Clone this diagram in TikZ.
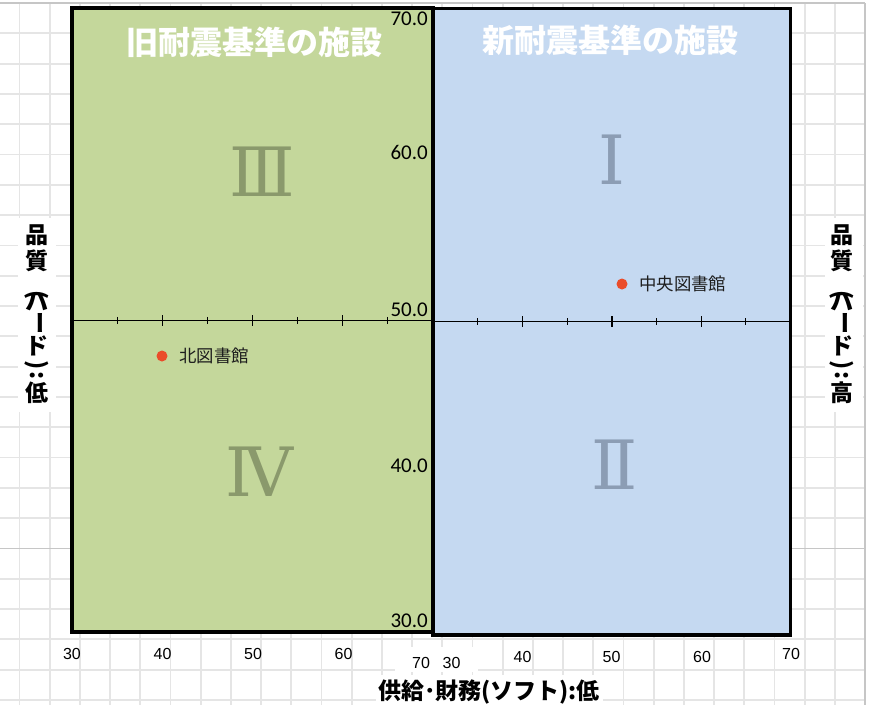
\documentclass[tikz,border=0pt]{standalone}
\usepackage{fontspec}
\usepackage{graphicx}
\setmainfont{Liberation Sans}
\newfontfamily\jpfont{Noto Sans CJK JP}
\newfontfamily\numfont{Carlito}
\newfontfamily\romfont{DejaVu Serif}
\definecolor{oldfill}{RGB}{196,215,155}
\definecolor{newfill}{RGB}{197,217,241}
\definecolor{gridc}{RGB}{229,229,229}
\definecolor{gridd}{RGB}{198,198,198}
\definecolor{romg}{RGB}{138,153,108}
\definecolor{romb}{RGB}{140,157,180}
\definecolor{dotc}{RGB}{234,76,42}
\definecolor{txtc}{RGB}{30,30,30}
\newcommand{\vcell}[2]{\hbox to 30pt{\hss\raisebox{0pt}[#1][0pt]{#2}\hss}}
\newcommand{\vrot}[1]{\rotatebox[origin=c]{-90}{#1}}
\tikzset{
  gridline/.style={draw=gridc, line width=1.8pt},
  gridheavy/.style={draw=gridd, line width=1.8pt},
  quadbox/.style={draw=black, line width=3.5pt},
  axisline/.style={draw=black, line width=1.4pt},
  majortick/.style={draw=black, line width=1.4pt},
  minortick/.style={draw=black, line width=1.1pt},
  titletext/.style={inner sep=0pt, text=white, font=\jpfont\bfseries\fontsize{32}{32}\selectfont},
  romang/.style={inner sep=0pt, text=romg, font=\romfont\fontsize{68}{68}\selectfont},
  romanb/.style={inner sep=0pt, text=romb, font=\romfont\fontsize{68}{68}\selectfont},
  ylab/.style={inner sep=0pt, anchor=base east, text=black, font=\numfont\fontsize{21}{21}\selectfont},
  xlab/.style={inner sep=0pt, anchor=base, text=black, font=\fontsize{16}{16}\selectfont},
  dotmark/.style={circle, fill=dotc, minimum size=11pt, inner sep=0pt},
  ptlabel/.style={inner sep=0pt, anchor=west, text=txtc, font=\jpfont\fontsize{17.4}{17.4}\selectfont},
  vlabel/.style={inner sep=0pt, anchor=north, text=black, font=\jpfont\bfseries\fontsize{23}{23}\selectfont},
  hlabel/.style={inner sep=0pt, text=black, font=\jpfont\bfseries\fontsize{23}{23}\selectfont},
}
\begin{document}
\begin{tikzpicture}[x=1pt,y=-1pt]
\useasboundingbox (0,0) rectangle (875,705);
\fill[white] (0,0) rectangle (875,705);
% spreadsheet grid
\foreach \i in {0,...,27} \draw[gridline] ({19.5+30.2*\i},3) -- ({19.5+30.2*\i},705);
\foreach \j in {1,...,23} \draw[gridline] (0,{3+30.3*\j}) -- (865,{3+30.3*\j});
\draw[gridheavy] (0,3) -- (865,3);
\draw[gridheavy] (0,548.4) -- (865,548.4);
\draw[gridheavy] (865,3) -- (865,705);
% white text boxes
\fill[white] (18,218) rectangle (56,412);
\fill[white] (825,218) rectangle (863,412);
\fill[white] (395,647) rectangle (478,672);
\fill[white] (376,675) rectangle (603,705);
% quadrants
\draw[quadbox, fill=oldfill] (72,8) rectangle (433,632);
\draw[quadbox, fill=newfill] (433,8.5) rectangle (790.5,635);
% horizontal axis
\draw[axisline] (72,320.3) -- (433,320.3);
\draw[axisline] (433,321.5) -- (790.5,321.5);
\foreach \v in {35,45,55,65} {
  \draw[minortick] ({72+(\v-30)*9.025},316.8) -- ({72+(\v-30)*9.025},323.8);
  \draw[minortick] ({433+(\v-30)*8.94},318) -- ({433+(\v-30)*8.94},325);
}
\foreach \v in {40,50,60} {
  \draw[majortick] ({72+(\v-30)*9.025},315) -- ({72+(\v-30)*9.025},325.8);
  \draw[majortick] ({433+(\v-30)*8.94},316.2) -- ({433+(\v-30)*8.94},327);
}
% titles
\node[titletext] (tOld) at (254.5,42) {旧耐震基準の施設};
\node[titletext] (tNew) at (610.5,40) {新耐震基準の施設};
% roman numerals
\node[romang] (q3) at (262,172) {Ⅲ};
\node[romanb] (q1) at (612,160) {Ⅰ};
\node[romang] (q4) at (259,472) {Ⅳ};
\node[romanb] (q2) at (615,465) {Ⅱ};
% y labels
\node[ylab] (y70) at (428,25) {70.0};
\node[ylab] (y60) at (428,159.5) {60.0};
\node[ylab] (y50) at (428,316) {50.0};
\node[ylab] (y40) at (428,472.5) {40.0};
\node[ylab] (y30) at (428,627.5) {30.0};
% x labels
\node[xlab] (xa30) at (72,659) {30};
\node[xlab] (xa40) at (162.5,659) {40};
\node[xlab] (xa50) at (253,659) {50};
\node[xlab] (xa60) at (343.5,659) {60};
\node[xlab] (xa70) at (421,668) {70};
\node[xlab] (xb30) at (451.5,668) {30};
\node[xlab] (xb40) at (522.5,662) {40};
\node[xlab] (xb50) at (611.5,662) {50};
\node[xlab] (xb60) at (702,662) {60};
\node[xlab] (xb70) at (791,659) {70};
% data points
\node[dotmark] (pKita) at (162,356) {};
\node[ptlabel] (lKita) at (179,356) {北図書館};
\node[dotmark] (pChuo) at (622,284) {};
\node[ptlabel] (lChuo) at (639,284) {中央図書館};
% axis titles
\node[vlabel] (qLow) at (37,223.4) {\vbox{\offinterlineskip
  \vcell{20pt}{品}\vcell{26pt}{質}\vcell{33pt}{\vrot{(}}\vcell{8pt}{ハ}%
  \vcell{18pt}{\vrot{ー}}\vcell{26pt}{ド}\vcell{18pt}{\vrot{)}}\vcell{9pt}{\vrot{:}}\vcell{20pt}{低}}};
\node[vlabel] (qHigh) at (842,223.4) {\vbox{\offinterlineskip
  \vcell{20pt}{品}\vcell{26pt}{質}\vcell{33pt}{\vrot{(}}\vcell{8pt}{ハ}%
  \vcell{18pt}{\vrot{ー}}\vcell{26pt}{ド}\vcell{18pt}{\vrot{)}}\vcell{9pt}{\vrot{:}}\vcell{20pt}{高}}};
\node[hlabel] (sLow) at (489,692) {供給･財務(ソフト):低};
\end{tikzpicture}
\end{document}
